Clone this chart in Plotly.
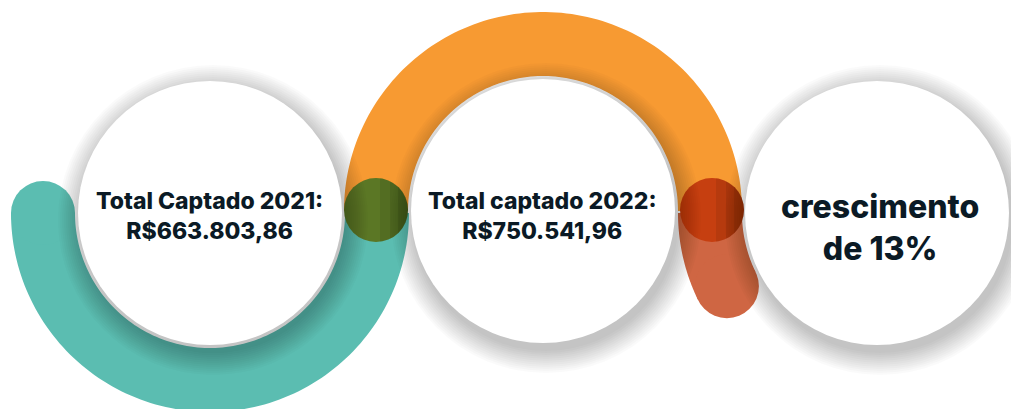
import numpy as np
import plotly.graph_objects as go

# ---- data ----
years = [2021, 2022]
labels = ["Total Captado 2021:", "Total captado 2022:"]
totals = [663803.86, 750541.96]
growth_word = "crescimento"
growth_pct = round((totals[1] / totals[0] - 1) * 100)

def brl(v):
    s = f"{v:,.2f}"
    return "R$" + s.replace(",", "X").replace(".", ",").replace("X", ".")

# ---- style / geometry ----
W, H = 1011, 409
centers = [(210, 213), (543, 211), (877, 213)]
circle_r = 132
arc_r = 167
arc_hw = 32
teal = "#5BBDB1"
orange = "#F79A32"
redarc = "#CF6643"
green_dot = "#5B7725"
red_dot = "#C63F10"
text_col = "#0B1A25"
FONT = "Inter"

shapes = []

def pts_path(xs, ys):
    return "M " + " L ".join(f"{x:.2f},{y:.2f}" for x, y in zip(xs, ys)) + " Z"

def sector_path(cx, cy, a0, a1, r_in, r_out, n=120):
    t = np.radians(np.linspace(a0, a1, n))
    xs = np.concatenate([cx + r_out * np.cos(t), cx + r_in * np.cos(t[::-1])])
    ys = np.concatenate([cy + r_out * np.sin(t), cy + r_in * np.sin(t[::-1])])
    return pts_path(xs, ys)

def circ(cx, cy, r, color, opacity=1.0):
    return dict(type="circle", xref="x", yref="y", x0=cx - r, x1=cx + r,
                y0=cy - r, y1=cy + r, fillcolor=color, opacity=opacity,
                line=dict(width=0), layer="above")

def right_segment(cx, cy, r, xcut, color, opacity):
    a = np.arccos(np.clip((xcut - cx) / r, -1, 1))
    t = np.linspace(-a, a, 60)
    return dict(type="path", xref="x", yref="y",
                path=pts_path(cx + r * np.cos(t), cy + r * np.sin(t)),
                fillcolor=color, opacity=opacity, line=dict(width=0), layer="above")

def cap(cx, cy, ang, color):
    t = np.radians(ang)
    return circ(cx + arc_r * np.cos(t), cy + arc_r * np.sin(t), arc_hw, color)

# arcs (angles in screen coords, positive = downward)
arcs = [
    (centers[0], 0, 180, teal),
    (centers[1], 180, 360, orange),
    (centers[2], 154, 180, redarc),
]
for (cx, cy), a0, a1, col in arcs:
    shapes.append(dict(type="path", xref="x", yref="y",
                       path=sector_path(cx, cy, a0, a1, arc_r - arc_hw, arc_r + arc_hw),
                       fillcolor=col, line=dict(width=0), layer="above"))
shapes.append(cap(*centers[0], 180, teal))
shapes.append(cap(*centers[2], 154, redarc))

# joint dots with a slight darker right side
dots = [(centers[0][0] + arc_r - 1, 210, green_dot), (centers[2][0] - arc_r + 2, 210, red_dot)]
for dx, dy, col in dots:
    shapes.append(circ(dx, dy, arc_hw, col))
    for off in [4, 14, 22]:
        shapes.append(right_segment(dx, dy, arc_hw, dx + off, "#000000", 0.08))

# soft shadows of white circles
for cx, cy in centers:
    for k in range(12):
        shapes.append(circ(cx + 3, cy + 7, circle_r + 1 + k * 2, "#000000", 0.018))

# white circles
for cx, cy in centers:
    shapes.append(circ(cx, cy, circle_r, "#FFFFFF"))

annotations = []
for i in range(2):
    cx = centers[i][0]
    annotations.append(dict(x=cx - 1, y=216, xref="x", yref="y",
                            text=labels[i] + "<br>" + brl(totals[i]),
                            showarrow=False, align="center",
                            font=dict(family=FONT, size=23, color=text_col, weight=800)))
annotations.append(dict(x=880, y=227, xref="x", yref="y",
                        text=f"{growth_word}<br>de {growth_pct}%",
                        showarrow=False, align="center",
                        font=dict(family=FONT, size=32, color=text_col, weight=800)))

fig = go.Figure()
fig.add_trace(go.Scatter(x=[0, W], y=[0, H], mode="markers",
                         marker=dict(opacity=0), hoverinfo="skip", showlegend=False))
fig.update_layout(
    width=W, height=H, autosize=False,
    margin=dict(l=0, r=0, t=0, b=0),
    paper_bgcolor="white", plot_bgcolor="white",
    xaxis=dict(range=[0, W], visible=False, fixedrange=True),
    yaxis=dict(range=[H, 0], visible=False, fixedrange=True),
    shapes=shapes, annotations=annotations, showlegend=False,
)
fig.write_html("out.html", config={"displayModeBar": False},
               post_script="document.body.style.margin='0px';document.body.style.overflow='hidden';")
